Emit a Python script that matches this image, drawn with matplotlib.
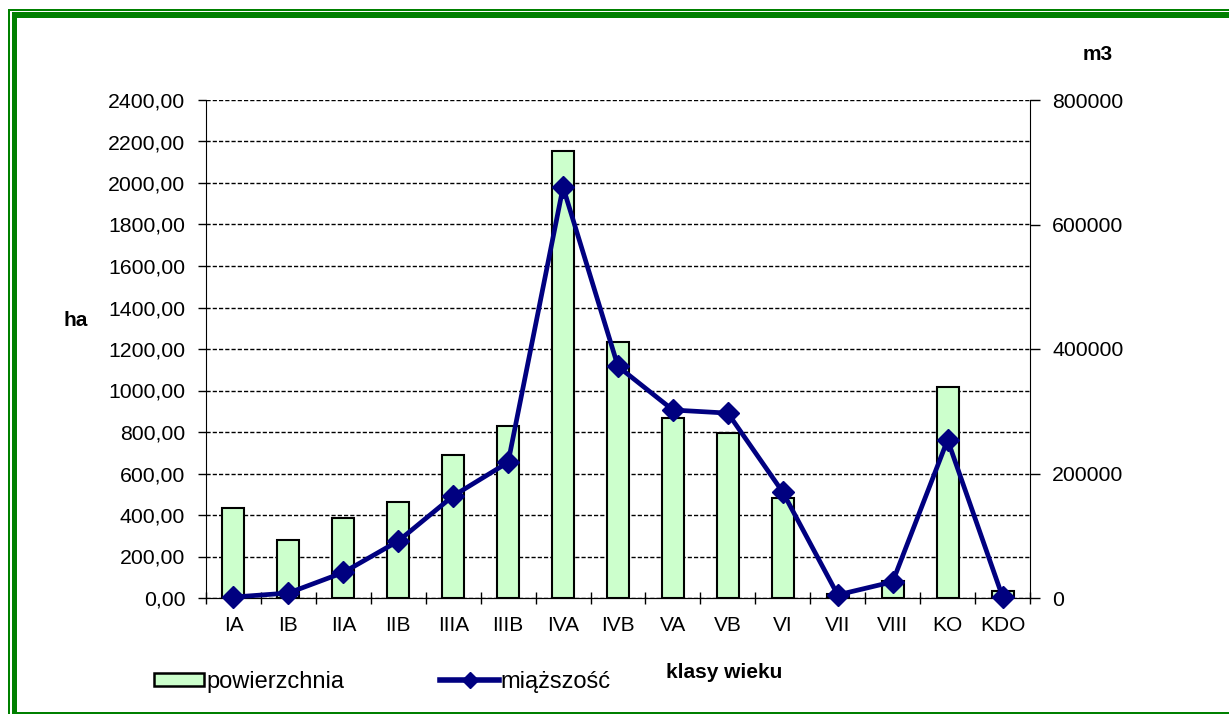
import matplotlib
matplotlib.use('Agg')
import matplotlib.pyplot as plt
from matplotlib.ticker import FuncFormatter, FixedLocator
from matplotlib.lines import Line2D
from matplotlib.patches import Patch, Rectangle

plt.rcParams['font.family'] = ['Liberation Sans', 'DejaVu Sans']

# dane
klasy = ['IA', 'IB', 'IIA', 'IIB', 'IIIA', 'IIIB', 'IVA', 'IVB', 'VA', 'VB',
         'VI', 'VII', 'VIII', 'KO', 'KDO']
powierzchnia = [433, 280, 387, 463, 690, 830, 2155, 1233, 866, 795,
                481, 20, 80, 1015, 32]
miazszosc = [1500, 8000, 41000, 91500, 164000, 218000, 660000, 372000, 302000, 297000,
             170000, 5000, 26000, 254000, 2000]

W, H = 1229, 714
fig = plt.figure(figsize=(W / 100, H / 100), dpi=100)
fig.patch.set_facecolor('white')

# ramka (zielona)
green = '#008000'
def px_rect(x0, y0, x1, y1):
    fig.patches.append(Rectangle((x0 / W, 1 - y1 / H), (x1 - x0) / W, (y1 - y0) / H,
                                 transform=fig.transFigure, facecolor=green,
                                 edgecolor='none', zorder=0))
px_rect(8, 9, W, 11)       # gora cienka
px_rect(12, 12, W, 17.7)   # gora gruba
px_rect(8, 9, 10.3, H)     # lewa cienka
px_rect(12, 12, 17.3, H)   # lewa gruba
px_rect(12, 711.5, W, 713.5)  # dol

ax = fig.add_axes([206 / W, 1 - 598 / H, 824 / W, 498 / H])
x = list(range(len(klasy)))
ax.bar(x, powierzchnia, width=0.4, color='#CCFFCC', edgecolor='black', linewidth=1.5, zorder=3)
ax.set_xlim(-0.5, len(klasy) - 0.5)
ax.set_ylim(0, 2400)
ax.set_yticks(range(0, 2401, 200))
ax.yaxis.set_major_formatter(FuncFormatter(lambda v, p: ('%.2f' % v).replace('.', ',')))
ax.yaxis.grid(True, color='black', linestyle=(0, (3, 1.5)), linewidth=1)
ax.set_axisbelow(True)
ax.set_xticks(x)
ax.set_xticklabels(klasy)
ax.xaxis.set_minor_locator(FixedLocator([i - 0.5 for i in range(len(klasy) + 1)]))
ax.tick_params(axis='x', which='major', length=0, pad=13, labelsize=15)
ax.tick_params(axis='x', which='minor', direction='inout', length=9, width=1)
ax.tick_params(axis='y', direction='out', length=6, width=1, pad=9, labelsize=15.3)
ax.spines['top'].set_visible(False)
ax.spines['right'].set_visible(False)

ax2 = ax.twinx()
ax2.plot(x, miazszosc, color='#000080', linewidth=3.4, marker='D', markersize=11,
         zorder=4, clip_on=False)
ax2.set_ylim(0, 800000)
ax2.set_yticks(range(0, 800001, 200000))
ax2.yaxis.set_major_formatter(FuncFormatter(lambda v, p: '%d' % v))
ax2.tick_params(axis='y', direction='out', length=7, width=1, pad=9, labelsize=15.3)
ax2.spines['top'].set_visible(False)
ax2.spines['left'].set_visible(False)

fig.text(76 / W, 1 - 320 / H, 'ha', fontsize=15, fontweight='bold', ha='center', va='center')
fig.text(1098 / W, 1 - 55 / H, 'm3', fontsize=15, fontweight='bold', ha='center', va='center')
fig.text(724 / W, 1 - 672 / H, 'klasy wieku', fontsize=15, fontweight='bold', ha='center', va='center')

# legenda - dwie osobne czesci
leg1 = fig.legend([Patch(facecolor='#CCFFCC', edgecolor='black', linewidth=1.8)], ['powierzchnia'],
                  loc='center left', bbox_to_anchor=(154 / W, 1 - 682 / H), frameon=False,
                  fontsize=17, handlelength=2.1, handleheight=0.45, handletextpad=0.1,
                  borderpad=0, borderaxespad=0)
leg2 = fig.legend([Line2D([], [], color='#000080', linewidth=4, marker='D', markersize=8)], ['miąższość'],
                  loc='center left', bbox_to_anchor=(440 / W, 1 - 682 / H), frameon=False,
                  fontsize=17, handlelength=2.5, handletextpad=0.05,
                  borderpad=0, borderaxespad=0)

fig.savefig('out.png', dpi=100)
